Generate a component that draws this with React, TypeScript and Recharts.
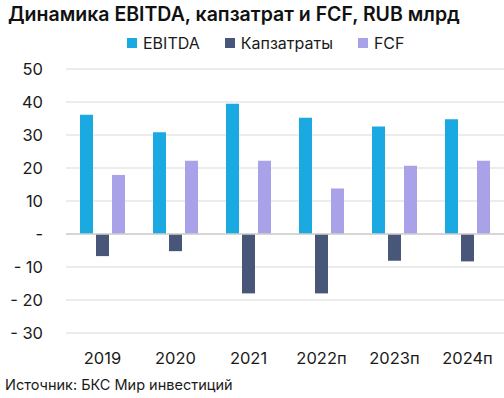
import { BarChart, Bar, XAxis, YAxis, CartesianGrid, ReferenceLine } from 'recharts'

const years = ['2019', '2020', '2021', '2022п', '2023п', '2024п']
const ebitda = [36.1, 30.8, 39.5, 35.2, 32.6, 34.8]
const capex = [-6.7, -5.2, -18, -18, -8.1, -8.3]
const fcf = [17.9, 22.2, 22.2, 13.8, 20.7, 22.2]
const yTicks = [-30, -20, -10, 0, 10, 20, 30, 40, 50]

const series = [
  { key: 'ebitda', name: 'EBITDA', color: '#1ba9e1' },
  { key: 'capex', name: 'Капзатраты', color: '#48567a' },
  { key: 'fcf', name: 'FCF', color: '#a9a2e8' },
]

const data = years.map((year, i) => ({ year, ebitda: ebitda[i], capex: capex[i], fcf: fcf[i] }))

const font = 'Inter, "Noto Sans", sans-serif'

const fmtY = (v: number) => (v === 0 ? '-' : v < 0 ? `- ${-v}` : `${v}`)

export default function App() {
  return (
    <div style={{ position: 'absolute', left: 0, top: 0, width: 504, height: 398, background: '#fff', fontFamily: font }}>
      <div style={{ position: 'absolute', left: 8, top: 2, fontSize: 19.5, fontWeight: 600, color: '#111', whiteSpace: 'nowrap' }}>
        Динамика EBITDA, капзатрат и FCF, RUB млрд
      </div>
      <div style={{ position: 'absolute', left: 127, top: 33, display: 'flex', fontSize: 16, color: '#1a1a1a' }}>
        {series.map((s) => (
          <div key={s.key} style={{ display: 'flex', alignItems: 'center', marginRight: 25 }}>
            <span style={{ width: 10, height: 10, background: s.color, display: 'inline-block', marginRight: 6 }} />
            {s.name}
          </div>
        ))}
      </div>
      <div style={{ position: 'absolute', left: 0, top: 0 }}>
        <BarChart width={504} height={398} data={data} margin={{ top: 69, right: 0, bottom: 35, left: 0 }} barSize={13} barGap={3}>
          <CartesianGrid vertical={false} stroke="#d9d9d9" />
          <XAxis dataKey="year" axisLine={false} tickLine={false} tickSize={0} tickMargin={19} height={30}
            tick={{ fontSize: 16.5, fill: '#1a1a1a', fontFamily: font }} />
          <YAxis domain={[-30, 50]} ticks={yTicks} tickFormatter={fmtY} axisLine={false} tickLine={false} tickSize={0}
            tickMargin={23} width={66} tick={{ fontSize: 16.5, fill: '#1a1a1a', fontFamily: font }} />
          <ReferenceLine y={0} stroke="#cfcfcf" strokeWidth={1.5} />
          {series.map((s) => (
            <Bar key={s.key} dataKey={s.key} name={s.name} fill={s.color} isAnimationActive={false} />
          ))}
        </BarChart>
      </div>
      <div style={{ position: 'absolute', left: 5, top: 376, fontSize: 14.5, color: '#1a1a1a', whiteSpace: 'nowrap' }}>
        Источник: БКС Мир инвестиций
      </div>
    </div>
  )
}
